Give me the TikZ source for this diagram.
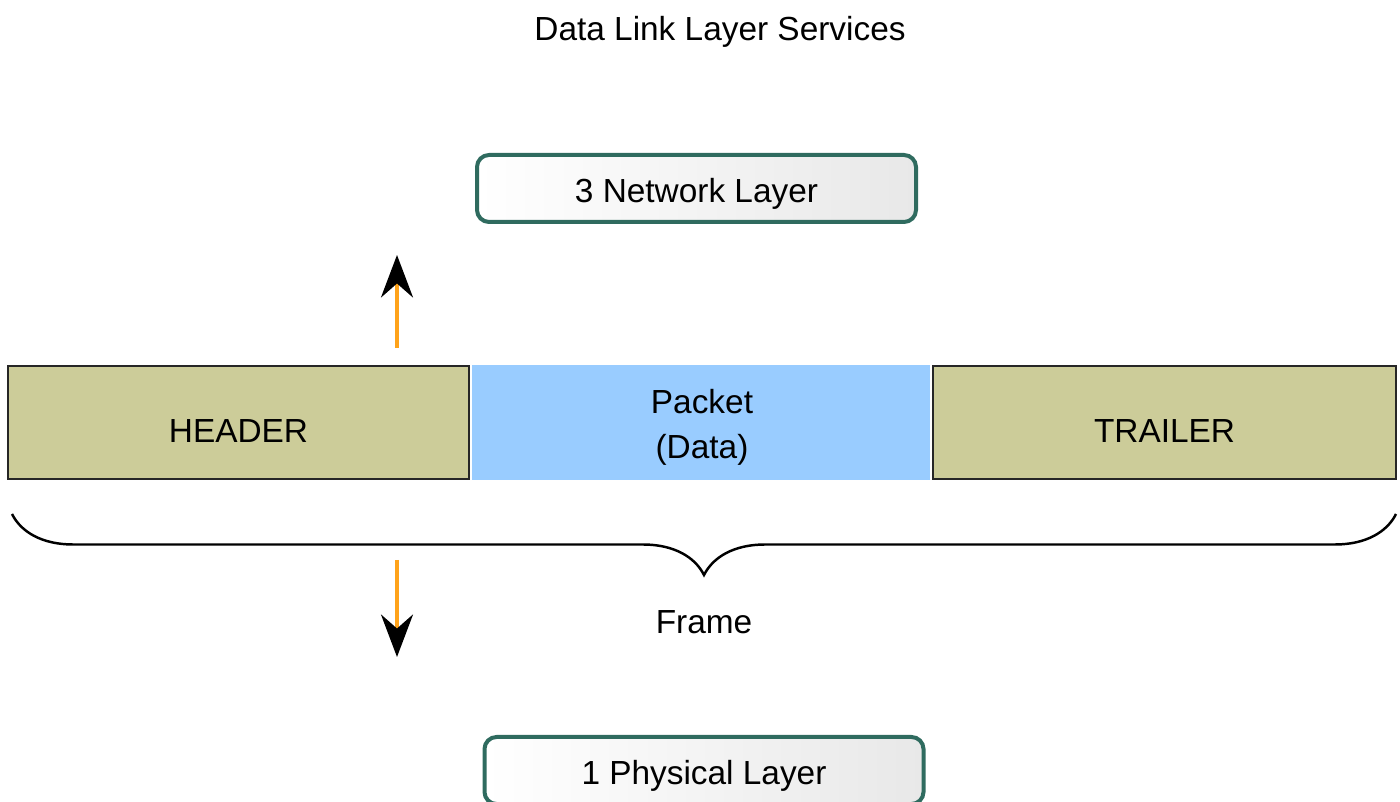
\documentclass[tikz,border=0pt]{standalone}
\usepackage{fontspec}
\setmainfont{Liberation Sans}
\usetikzlibrary{arrows.meta,decorations.pathreplacing}
\definecolor{layerteal}{HTML}{2F6B5F}
\definecolor{fieldkhaki}{HTML}{CCCC99}
\definecolor{packetblue}{HTML}{99CCFF}
\definecolor{shaftorange}{HTML}{FFA31A}
\begin{document}
\begin{tikzpicture}[
		font=\fontsize{19}{26}\selectfont,
		layerbox/.style={draw=layerteal,line width=.08cm,rounded corners=.24cm,text height=.6cm,text depth=.05cm,
			left color=white,right color=black!9,minimum width=8.78cm,minimum height=1.34cm},
		fieldbox/.style={fill=fieldkhaki,draw=black!85,line width=1pt,minimum height=2.26cm,
			text height=.8cm,text depth=0cm,inner sep=0pt},
		moveto/.style={draw=shaftorange,line width=2pt,-{Stealth[length=.85cm,width=.64cm,inset=.28cm,color=black]}}
		]
		\useasboundingbox (0,0) rectangle (28,16.02);
		\node (title) at (14.4,15.38) {Data Link Layer Services};
		\node [layerbox] (network) at (13.93,12.25) {3 Network Layer};
		\node [layerbox] (physical) at (14.08,.61) {1 Physical Layer};
		% frame fields
		\node [fieldbox,minimum width=9.22cm] (header) at (4.77,7.57) {HEADER};
		\node [fieldbox,minimum width=9.26cm] (trailer) at (23.29,7.57) {TRAILER};
		\fill [packetblue] ([xshift=.04cm]header.north east) rectangle ([xshift=-.04cm]trailer.south west);
		\node [align=center] (packet) at (14.04,7.47) {Packet\\(Data)};
		\node (frame) at (14.08,3.58) {Frame};
		% arrows up and down
		\coordinate (upfrom) at (7.94,9.06);
		\coordinate (upto) at (7.94,10.92);
		\coordinate (downfrom) at (7.94,4.82);
		\coordinate (downto) at (7.94,2.88);
		\draw [moveto] (upfrom)--(upto);
		\draw [moveto] (downfrom)--(downto);
		% brace
		\coordinate (bracel) at (.24,5.74);
		\coordinate (bracer) at (27.92,5.74);
		\draw [line width=1.4pt,decorate,decoration={brace,mirror,amplitude=1.22cm}] (bracel)--(bracer);
		\end{tikzpicture}
\end{document}
